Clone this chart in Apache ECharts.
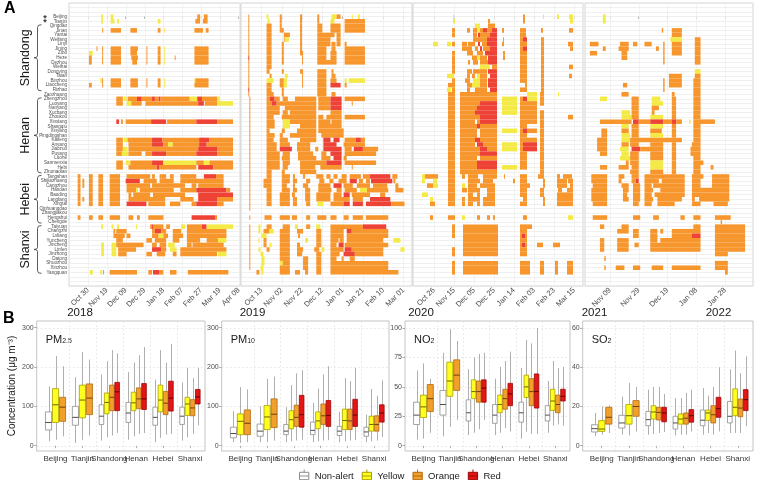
<!DOCTYPE html>
<html><head><meta charset="utf-8">
<script src="https://cdn.jsdelivr.net/npm/echarts@6/dist/echarts.min.js"></script>
<style>html,body{margin:0;padding:0;background:#fff}#c{width:760px;height:480px}</style>
</head><body><div id="c"></div>
<script>
// ---------------- DATA ----------------
const cities = ['Beijing','Tianjin','Qingdao','Jinan','Yantai','Weifang','Linyi','Jining','Zibo','Heze','Dezhou','Weihai','Dongying','Taian','Binzhou','Liaocheng','Rizhao','Zaozhuang','Zhengzhou','Luoyang','Nanyang','Xuchang','Zhoukou','Xinxiang','Shangqiu','Xinyang','Pingdingshan','Kaifeng','Anyang','Jiaozuo','Puyang','Luohe','Sanmenxia','Hebi','Zhumadian','Tangshan','Shijiazhuang','Cangzhou','Handan','Baoding','Langfang','Xingtai','Qinhuangdao','Zhangjiakou','Hengshui','Chengde','Taiyuan','Changzhi','Lvliang','Yuncheng','Jincheng','Linfen','Jinzhong','Datong','Shuozhou','Xinzhou','Yangquan'];
const provinceGroups = [['Shandong',2,16],['Henan',18,34],['Hebei',35,45],['Shanxi',46,56]];
const starredRows = [0,1];
const periodRefs = [[2018,10,30],[2019,10,13],[2020,10,26],[2021,11,9]]; // first tick date of each winter
const periodMin = [-20.2,-20.2,-21,-17.4];   // days from first tick
const periodMax = [161.4,148.4,149,99.5];
const ticks2018 = [0,20,40,60,80,100,120,140,160];
const ticks2019 = [0,20,40,60,80,100,120,140];
const ticks2020 = [0,20,40,60,80,100,120,140];
const ticks2021 = [0,20,40,60,80];
const yearLabels = ['2018','2019','2020','2021','2022'];

// alert runs per city: level(y/o/r) + startDay~endDay (days from first tick)
const alerts2018 = [
"y14~16 y24~27 o116~119 o123~127",
"y14~16 y24~28 y31~33 y74~77 o114~119 o122~127",
"",
"o15 o24~35 o45~52 o74~77 y81 o113~122 o125~128",
"","","",
"o9 o15 o24~35 o45~53 o62 o74~77 y81 o113~128",
"y1~5 o15 o24~35 o45~52 o62 o74~77 y81 o113~128",
"o1~4 o15 o24~35 o46~53 o62 o74~77 y81 o92 o113~128",
"o1~4 o15 o24~35 o47~52 o62 o74~77 y81 o113~128",
"","","",
"y13~15 o15 o24~35 o45~53 o62 o74~77 y81 y113 o114~128",
"o1~4 o15 o24~35 o45~53 o62 o74~77 y81 o113~128",
"","",
"o30~37 y38~41 o42~52 r52~57 o57~68 r68~71 o71~75 r75~77 o77~108 y108~116 r116~121 o121~137 y137~140",
"o30~37 y41~46 o46~57 o61~117 r117~123 o124~137 y137~154",
"","","",
"r30~33 o35~37 o40~67 r67~83 o84~115 r115~137 o137~154",
"","","",
"o30~37 y38~42 o42~68 r68~79 o79~118 r118~129 o129~154",
"o30~37 o43~68 r68~80 o80~85 y85~90 o90~118 r118~126 o126~154",
"o30~37 y37~42 o43~117 r117~137 o137~154",
"o30~36 y36~43 o43~57 o61~68 r68~83 o83~115 r115~137 o137~154",
"",
"o30~37 y40~45 o45~68 r68~80 y80~115 o115~123 y123~129 o129~154",
"o30~37 o43~73 r73~76 o76~115 r117~133 o133~154",
"",
"o-11~-8 o1~5 o11~16 o23~34 o41~66 o68~71 o76~83 o87~91 o98~115 r123~136 o136~144",
"o-11~-8 o-6~-4 o1~5 o11~16 o23~34 r40~55 o59~73 o76~91 o98~144",
"o-11~-8 o-6~-4 o1~5 o11~16 o23~34 o41~66 o68~103 o110~115 o117~144",
"o-11~-8 o1~5 o11~16 o23~34 o41~51 y51~53 o55~91 o98~115 r115~147 o147~151",
"o-11~-8 o1~5 o11~16 o23~34 o43~46 o48~66 o69~103 r117~154",
"o-11~-8 o-6~-4 o1~5 o11~16 o23~34 o43~82 o98~112 r117~137 o137~154",
"o-11~-8 o1~5 o11~16 o23~34 r41~62 o64~82 o87~98 o110~115 r115~137 o137~144",
"","",
"o-11~-8 o1~5 o11~16 o23~34 o43~48 o52~55 o64~80 r110~135 o135~137",
"",
"y14~16 y25~27 y31~33 y51~52 o66~68 r68~69 o69~80 o83~87 y99~103 o105~121 r121~126 y126~154",
"o27~29 o30~41 o68~71 r71~78 o78~83 o90~99 o105~147",
"o27~39 o41~45 o68~75 y75~80 o80~85 o90~101 o105~147",
"o30~37 o62~68 o71~83 o90~97 o105~119 o126~138 y138~147",
"y14~17 y25~30 o30~59 o68~73 o76~83 y85~92 o105~110 o111~144",
"y14~17 y25~30 o32~51 r68~78 o78~83 y87~94 o98~147",
"y14~17 y25~30 o32~41 o62~68 o73~82 o90~94 o98~137 y138~147",
"","","",
"y2~5 y13~15 o16~17 o23~52 o64~68 r69~76 o76~80 o87~94 o106~149"
];
const alerts2019 = [
"o-13 y5~7 o18~20 o38~40 o55~57 y69~74 o74~78 y89~90 y95~97",
"o-13 y6~8 o18~20 o38~40 o55~57 y68~72 o82~102",
"o-13 o5~10 o18~20 o38~40 o55~60 o68~78 o82~102",
"o-13 o5~10 o18~22 o38~40 o55~60 o68~78 o82~102",
"o-13 o5~10 o22~28 o38~40 o55~72 o74~78",
"o-13 o5~10 o22~23 y23~27 o38~40 o55~68 o74~78",
"o-13 o5~10 o20~22 o38~40 o55~68 o69~73 o74~78 o82~84",
"o-13 o5~10 o20~22 o38~40 o55~64 o69~73 o82~102",
"o-13 o5~10 o20~22 o38~41 o55~64 o68~74 o82~102",
"r-13 o5~10 o20~22 o40~41 o55~64 o68~74 o82~102",
"o-13 o5~10 o20~22 o40~41 o55~74 o82~102",
"o-13 o5~10",
"o-13 o5~8 o20~22 o38~41 o55~64 o69~71",
"o-13 o8~10 y23~26 o40~41 o55~64 o69~73",
"o-13 y5~12 o18~22 y22~25 o40~41 o55~64 o68~74 y82~84 y86~102",
"o-13 o5~10 o18~22 y22~25 o40~41 o55~64 r68~78 o82~84",
"r-13 o5~10 o20~22 o55~64",
"o-13 o5~12 o20~22 o55~64 o69~73",
"o-12 o5~8 r8~13 o13~18 o21~26 o33~54 o56~68 r68~79 o82~102",
"o-12 o5~10 r10~15 o15~54 o56~68 r68~79 o89~90",
"o-12 o5~18 o23~54 o56~68 r68~79",
"o-12 o5~18 o21~26 o28~54 o68~79",
"o-12 o5~12 o20~54 o56~61 o64~79 o82~102",
"o-12 o5~13 y21~28 o28~54 o56~68 o69~79",
"o-12 o5~13 y21~28 o38~54 o56~79",
"o-12 o5~8 o20~23 o35~54 o56~81",
"o-12 o5~13 o18~21 o28~54 o59~81",
"o-12 o5~12 o18~26 o38~54 r61~68 r71~77 o82~93 r93~98 o98~102",
"o-12 o5~15 o18~28 o35~48 r61~74 o81~102",
"o-12 o5~15 r18~30 o35~48 o53~56 r61~79 o82~89 r91~100 o100~115",
"o-12 o5~18 o21~28 o36~51 o59~64 r68~79 o82~113",
"o-12 o5~18 o20~28 o36~54 o59~68 r71~79 o81~84",
"o-12 o5~18 o21~28 o38~64 r64~79 o82~113",
"o-12 o5~18 o21~26 o38~53 o58~79 o89~90",
"o-12 o5~10 o20~23 o38~54",
"o-12 o5~10 o20~28 o31~33 o41~43 o54~61 o64~68 o71~75 o79~84 o87~98 o100~107 r107~127 o129~134",
"o-12 o2~10 o20~28 o31~35 o44~48 o57~62 o67~71 o76~84 r87~94 o96~100 o103~107 r108~129 o130~132",
"o-12 o2~10 o20~25 o31~33 o41~46 o56~68 r71~79 o81~90 o94~107 o110~124 o132~135",
"o-12 o5~10 o20~28 o31~35 o43~48 o56~69 o74~79 o82~94 y97~104 o104~125 o132~140",
"o-12 o5~10 o18~28 o30~33 o43~48 o54~68 o71~79 r81~87 o89~107 o117~122",
"o-12 o5~10 o18~28 o31~35 o43~48 o54~68 o71~87 o90~100 r107~127",
"o-12 o5~10 o18~28 o31~35 o44~48 y55~61 o68~81 r81~87 r90~100 r103~128 o128~141",
"o-12",
"",
"o-12 o3~10 o18~28 o30~35 o44~48 o55~64 o68~74 o81~86 o90~100 o103~125",
"",
"o-12 y-3~-1 o5~10 o21~28 y33~36 o44~48 y54~58 o68~100 r100~123",
"o-12 y-3~-1 o2~8 y8~12 o18~28 o35~41 o54~59 o68~81 r84~89 o89~125",
"o-12 y0~5 o18~28 o36~38 o54~59 o68~81 o84~125",
"o-12 y-3~-2 o2~5 o18~28 y43~46 o54~59 o68~76 o77~81 o84~120 y130~137",
"o-12 o2~5 y8~10 o18~28 o35~38 o54~59 o68~74 r76~81 o82~125",
"o-12 y-3~-1 o5~8 o18~28 o35~41 o52~57 y59~62 o68~81 r82~89 o89~120 y137~141",
"o-12 y-1~2 o18~28 o35~40 o54~59 o68~77 r81~92 o92~120",
"o-12 y0~3 o18~28 o41~46 o54~59 o68~74 o79~81 o87~92",
"o-12 y0~3 y18~21 o21~28 o41~46 o54~59 o68~125",
"o-12 y-1~2 o18~28 o41~46 o54~59 o68~125",
"o-5~-2 y0~2 o18~28 o33~38 o43~46 o54~59 o68~135"
];
const alerts2020 = [
"y19~20 o89~91 y109~110 y123~125 y135~139",
"y19~21 o54~56 o89~91 y136~139",
"y41~46 o54~61",
"o18~21 o33~36 o39~43 y43~46 o46~49 r49~53 o53~58 r58~63 o68~70 o86~92 o107~109 o135~139",
"o18~21 o39~43 r44~46 o46~56 r56~63 o86~92",
"o39~53 r53~63 o69~70 o86~89 r89~93 o107~110",
"y-1~4 y13~17 o18~21 o28~33 o34~41 r44~46 o48~53 r53~63 o68~70 o86~93 o107~110 o134~139",
"o28~38 o41~44 r46~48 o49~56 r56~63 o86~89 r89~93 o107~110 o136~139",
"o18~21 o33~39 o43~49 r51~63 o69~71 o86~93 o107~110",
"o18~21 o38~43 y43~46 o46~53 r54~63 o69~71 o86~93 o107~110",
"o18~21 o34~36 o39~44 o46~54 r54~63 o86~93 o107~110",
"o18~21 y46~56 o58~63 o86~93 o107~110 o135~139",
"o18~21 o33~38 o39~53 r54~63 o86~93 o107~110",
"y13~20 o33~36 o38~41 y43~46 o46~53 r56~63 o86~93 o107~110 o135~138",
"o18~21 o31~36 y39~46 o46~53 r54~63 o86~93 o107~110",
"o14~21 o33~38 y38~46 o46~53 r54~63 o91~93 o107~110",
"y13~17 o18~21 o33~36 o41~53 r56~63 o86~93 o107~110",
"o14~21 o26~63 y93~103 o106~110 y124~125",
"o14~21 o26~63 y68~83 o86~89 r89~93 y93~103 o106~110",
"o14~21 o26~46 r46~63 y68~83 o86~103 o106~110",
"o14~21 o26~43 r43~63 y68~83 o86~103",
"o14~21 o26~41 r41~63 y68~83 o86~103 o106~110",
"o14~21 o26~46 r46~63 o86~103 o106~110 o134~139",
"o14~21 o26~41 o43~46 r46~63 o86~103 o106~110",
"o14~21 o26~43 r43~46 o46~63 o86~93 o106~110",
"o14~21 o26~43 o46~63 y68~83 o86~89 r89~93 o93~103 o106~110",
"o14~21 o26~43 o46~63 o86~93 o106~110",
"o14~21 o26~41 r41~46 o46~63 o86~103 o106~110",
"o14~21 o26~41 r43~49 o49~63 y68~83 o86~89 r89~103 o106~110",
"o14~21 o26~46 r46~53 o53~63 y68~83 o86~89 r89~103 o106~110",
"o14~21 o26~46 r46~63 o86~93 o106~110",
"o14~21 o26~43 o46~63 o86~93 o106~110",
"o14~21 o26~43 r43~63 o86~93 o106~110",
"o14~21 o26~43 r43~63 y68~83 o86~93 o106~110",
"o14~21 o26~63 o106~110",
"y-12~-9 o-9~4 o14~21 o28~31 o34~44 o49~63 o70 o86~93 o104~110 o123~126 o129~138",
"y-12~-9 y-1~3 o14~21 o34~46 o49~59 o79~81 o86~93 o109~111 o123~133 o134~139",
"o-7~-1 y-1~4 o14~21 y28~31 o34~43 o46~61 o86~96 o109~111 o123~133 o136~139",
"o14~21 o28~33 o34~46 o53~61 o86~93 o106~110 o124~128 o133~139",
"y-12~-6 o14~21 o34~39 o43~46 o53~61 o86~93 o106~110 o123~139",
"y-4~-1 o14~21 o28~31 o34~46 o49~61 o89~93 o109~111 o123~139",
"o-4~1 o14~21 o28~31 o34~39 o43~46 o49~61 o86~93 o109~111 o123~139",
"","",
"o-4~-1 o14~21 y28~31 o43~46 o53~56 o59~61 o89~93 y134~139",
"",
"o18~21 o29~64 o86~98",
"o18~21 o29~64 o86~93",
"o18~21 o29~64 o86~88 r88~91 o91~93",
"o29~64 o86~93",
"o29~64 o86~88 r88~91 o91~93 o103~109 o119~126",
"o18~21 o29~64 o86~93",
"o18~21 o29~64 o86~93",
"",
"o18~21 o29~64 o86~96 o106~110 o121~124 o133~139",
"o18~21 o29~64 o86~96 o106~110 o121~124 o133~139",
"o18~21 o29~64 o86~96 o106~110 o121~124 o133~139"
];
const alerts2021 = [
"y-5~-3",
"y-5~-3",
"",
"o36~37 o43~50",
"o43~50",
"y42~50 o59~63",
"o-14~-8 o7~13 o16~19 o24~29 o37~38 o43~50 o59~63",
"o-5~-3 o6~13 o32~34 o37~38 o43~50 o59~63",
"o-14~-9 o8~12 o37~38 o43~50 o59~63",
"o8~12 o37~38 o59~63",
"o37~38 o59~63",
"",
"y59~63",
"o41~50 o59~63",
"o37~38 o41~50 o58~63",
"o9~12 o37~38 o41~50 o58~63",
"o37~38 o58~63",
"o8~13 o43~45 o58~63",
"y-7~-2 o15~20 y29~35 o43~46 o58~63",
"o15~20 y29~37 o43~46 o58~63",
"o15~20 o29~34 o43~46 o58~63",
"y8~14 o15~20 o29~31 o43~46 o58~63",
"y8~15 o15~20 y28~37 o43~46 o58~63",
"o-7~15 r16~20 o20~28 r28~37 o37~43 r43~46 o46~50 y55~56 o58~73",
"y8~13 o15~20 y28~37 o43~46 o58~63",
"o-6~-2 o8~13 o15~20 o28~36 o43~46 o58~63",
"o-6~-2 y8~14 o15~20 y28~37 o43~46 o58~63",
"o-9~-2 y8~14 o14~50 o58~63",
"o-9~-2 o8~13 o14~20 o28~37 o43~46 o57~63",
"o-9~-2 y7~13 r15~21 o21~37 o43~46 o56~63",
"o-7~-2 y8~13 o14~20 o28~37 o43~46 o56~63",
"y7~14 o14~20 o28~37 o43~46 o58~63",
"o11~13 o14~20 y28~37 o43~46 o58~65",
"o-7~-2 o6~13 o15~20 y28~37 o43~46 o58~63 o70~72",
"o14~20 o28~37 o43~46 o58~63",
"o-13~-2 o6~10 o15~20 o24~52 o57~65 o71~83",
"o-13~-2 o6~8 o15~18 r18~20 o24~34 o36~52 o57~63 o71~83",
"o-12~-2 o8~13 o16~21 o24~29 o30~52 o57~63 o71~83",
"o-13~-2 o9~13 o16~21 o24~30 o35~52 o57~83",
"o-13~-2 o9~12 o16~21 o24~29 o31~52 o57~83",
"o-13~-2 o9~13 o16~21 o24~30 o33~50 o57~59 o62~83",
"o-12~-2 o16~20 o24~29 o33~45 o57~63 o72~82",
"","",
"o-12~-2 o16~21 o30~34 o49~52 o58~63 o73~84",
"o77~78",
"o-7~-4 o8~13 o58~63 o73~94",
"o5~13 o16~20 o28~33 o35~37 o43~63 o73~94",
"o16~20 o28~33 o43~57 r57~63 o73~94",
"o-7~-4 o5~13 o28~33 o35~63 o73~94",
"o-7~-4 o5~13 o17~20 o28~63 o73~94",
"o-7~-4 o5~13 o28~63 o73~94",
"o73~82",
"o-4~-3",
"o73~82",
"o-4~-3 o4~10 o16~21 o29~37 o43~63 o73~82",
"o80~82"
];

// Panel B: [lower whisker, Q1, median, Q3, upper whisker] per province
const provinces = ['Beijing','Tianjin','Shandong','Henan','Hebei','Shanxi'];
const levels = ['Non-alert','Yellow','Orange','Red'];
const pm25NonAlert = [[11,40,59,86,151],[7,52,72,100,174],[13,54,75,104,181],[15,59,83,110,187],[9,52,72,98,168],[13,54,75,98,161]];
const pm25Yellow = [[15,59,104,145,228],[15,71,116,154,238],[21,81,110,134,215],[24,89,109,136,211],[20,86,116,154,243],[21,77,106,123,198]];
const pm25Orange = [[24,62,98,123,202],[26,79,121,157,219],[26,89,123,154,243],[30,94,119,147,230],[28,79,108,138,211],[30,76,96,117,172]];
const pm25Red = [null,null,[32,89,137,161,235],[32,92,119,158,251],[30,88,121,164,259],[52,106,124,143,198]];
const pm10NonAlert = [[9,20,31,47,88],[9,24,37,55,100],[9,28,37,54,98],[9,28,39,60,109],[9,26,37,49,86],[9,24,35,47,79]];
const pm10Yellow = [[7,28,62,81,149],[9,41,73,102,170],[11,43,66,89,154],[11,43,63,86,145],[11,41,64,93,172],[11,37,54,75,144]];
const pm10Orange = [[9,28,57,91,143],[13,46,80,119,176],[13,49,72,103,184],[13,54,76,106,181],[13,41,63,93,164],[13,37,54,76,127]];
const pm10Red = [null,null,[15,47,79,128,192],[14,49,77,115,202],[14,49,78,118,198],[22,60,83,104,166]];
const no2NonAlert = [[5,18,26,37,64],[8,26,35,47,79],[9,21,28,39,65],[9,19,26,35,57],[6,20,28,37,66],[11,21,26,34,55]];
const no2Yellow = [[6,24,33,43,70],[16,42,55,71,99],[11,40,46,56,75],[11,28,35,43,67],[12,41,50,60,90],[17,30,38,48,72]];
const no2Orange = [[11,29,40,52,57],[22,47,60,73,89],[14,37,46,55,78],[15,31,40,48,72],[10,34,46,57,87],[18,28,35,43,66]];
const no2Red = [null,null,[22,37,49,56,79],[12,34,44,53,80],[10,32,46,61,100],[17,38,42,48,67]];
const so2NonAlert = [[4.8,7,8.7,10.7,16.7],[5.6,9,11.6,15.5,25],[5.6,10.2,13.3,17.5,28.6],[5.3,8.5,11.6,15,24.3],[5.6,10.2,13,18.2,29.4],[6.5,11.6,15,22.6,39]];
const so2Yellow = [[5.6,7.3,8.5,12.8,20],[5.3,11,15.3,21,32],[6,13.6,17.2,20.4,30],[5.6,11,13.6,16.2,24.3],[6.5,12.8,16.7,18.2,25.5],[6.5,15.3,19.6,29,48.5]];
const so2Orange = [[6.5,11,14.5,19.6,20.6],[7.3,15,20,23,30],[6.5,13.1,17,19.6,30],[5.6,11,14,16.7,27],[5.6,11.6,15.8,20.4,30],[6.5,14.8,19.2,23.8,37]];
const so2Red = [null,null,[7,12.2,16.7,19.6,26.4],[7.3,12,15.3,18.4,28.6],[7.3,14.5,18.9,24.7,40],[9.9,17.9,23.5,28.6,45.6]];
const pollutantTicks = [[0,100,200,300],[0,100,200,300],[0,25,50,75,100],[0,20,40,60]];

// ---------------- STYLE / LAYOUT ----------------
const FONT = '"Liberation Sans", Arial, Helvetica, sans-serif';
const tileColors = ['#F4EA46','#F6962D','#EE4237'];
const boxFill = ['#FFFFFF','#FFFF1F','#F2A02C','#E31515'];
const boxStroke = ['#8C8C8C','#A89E00','#B06A10','#9A0808'];
const boxMedian = ['#4D4D4D','#6B6400','#6E4008','#5E0000'];
const MONTHS = ['Jan','Feb','Mar','Apr','May','Jun','Jul','Aug','Sep','Oct','Nov','Dec'];
function fmtDate(ref, d){
  const t = new Date(Date.UTC(ref[0], ref[1]-1, ref[2]) + Math.round(d)*86400000);
  return MONTHS[t.getUTCMonth()] + ' ' + String(t.getUTCDate()).padStart(2,'0');
}
function parseRuns(list){
  const out = [];
  list.forEach((s,row)=>{
    if(!s) return;
    s.trim().split(/\s+/).forEach(tok=>{
      const m = tok.match(/^([yor])(-?\d+(?:\.\d+)?)(?:~(-?\d+(?:\.\d+)?))?$/);
      if(!m) return;
      const a = +m[2];
      const b = m[3] !== undefined ? +m[3] : a + 1;
      out.push([a, Math.max(b, a + 1), row, 'yor'.indexOf(m[1])]);
    });
  });
  return out;
}
const alertSets = [alerts2018, alerts2019, alerts2020, alerts2021];
const tickSets = [ticks2018, ticks2019, ticks2020, ticks2021];
const gridA = [[69,171],[241,171],[413,170],[585,168]];
const gridB = [[36.7,168.3],[221.7,167.3],[405,165],[582.7,170.3]];
const yRangeB = [[-13.5,317],[-13.5,317],[-4.5,106],[-2.7,63.6]];
const pollutantSets = [
  [pm25NonAlert,pm25Yellow,pm25Orange,pm25Red],
  [pm10NonAlert,pm10Yellow,pm10Orange,pm10Red],
  [no2NonAlert,no2Yellow,no2Orange,no2Red],
  [so2NonAlert,so2Yellow,so2Orange,so2Red]
];

function tileItem(params, api){
  const s = api.value(0), e = api.value(1), r = api.value(2), l = api.value(3);
  const a = api.coord([s, r - 0.5]), b = api.coord([e, r + 0.5]);
  return {type:'rect', shape:{x:Math.min(a[0],b[0]), y:Math.min(a[1],b[1]), width:Math.max(Math.abs(b[0]-a[0]),1), height:Math.abs(b[1]-a[1])}, style:{fill:tileColors[l]}};
}
function vLineMaker(color, dash){
  return function(params, api){
    const cs = params.coordSys;
    const x = Math.round(api.coord([api.value(0), api.value(1)])[0]) + 0.5;
    return {type:'line', shape:{x1:x, y1:cs.y, x2:x, y2:cs.y+cs.height}, style:{stroke:color, lineWidth:0.7, lineDash:dash}};
  };
}
function hLineMaker(color, dash){
  return function(params, api){
    const cs = params.coordSys;
    const y = Math.round(api.coord([api.value(0), api.value(1)])[1]) + 0.5;
    return {type:'line', shape:{x1:cs.x, y1:y, x2:cs.x+cs.width, y2:y}, style:{stroke:color, lineWidth:0.7, lineDash:dash}};
  };
}
function boxItem(params, api){
  const x = api.value(0), lo = api.value(1), q1 = api.value(2), md = api.value(3), q3 = api.value(4), hi = api.value(5), hw = api.value(6), lv = api.value(7);
  const pLo = api.coord([x, lo]), pHi = api.coord([x, hi]), pQ1 = api.coord([x, q1]), pQ3 = api.coord([x, q3]);
  const pL = api.coord([x - hw, md]), pR = api.coord([x + hw, md]);
  const cx = Math.round(pLo[0]) + 0.5;
  return {type:'group', children:[
    {type:'line', shape:{x1:cx, y1:pLo[1], x2:cx, y2:pQ1[1]}, style:{stroke:'#A6A6A6', lineWidth:0.9}},
    {type:'line', shape:{x1:cx, y1:pQ3[1], x2:cx, y2:pHi[1]}, style:{stroke:'#A6A6A6', lineWidth:0.9}},
    {type:'rect', shape:{x:pL[0], y:pQ3[1], width:pR[0]-pL[0], height:pQ1[1]-pQ3[1]}, style:{fill:boxFill[lv], stroke:boxStroke[lv], lineWidth:0.8}},
    {type:'line', shape:{x1:pL[0], y1:pL[1], x2:pR[0], y2:pR[1]}, style:{stroke:boxMedian[lv], lineWidth:1}}
  ]};
}

const grids = [], xAxes = [], yAxes = [], series = [];
// Panel A
for (let i = 0; i < 4; i++){
  grids.push({left:gridA[i][0], top:3, width:gridA[i][1], height:283, show:true, borderColor:'#c9c9c9', borderWidth:0.8, backgroundColor:'#fff'});
  const ref = periodRefs[i];
  xAxes.push({type:'value', gridIndex:i, min:periodMin[i], max:periodMax[i],
    axisLine:{show:false}, splitLine:{show:false},
    axisTick:{show:true, customValues:tickSets[i], length:2, lineStyle:{color:'#777', width:0.6}},
    axisLabel:{customValues:tickSets[i], rotate:45, fontSize:7.5, color:'#4d4d4d', margin:3, fontFamily:FONT, formatter:v=>fmtDate(ref, v)}});
  yAxes.push({type:'value', gridIndex:i, inverse:true, min:-3, max:59, interval:1,
    axisLine:{show:false}, axisTick:{show:false},
    splitLine:{show:true, lineStyle:{color:'#e6e6e6', width:0.6}},
    axisLabel: i === 0 ? {show:true, fontSize:4.6, color:'#4d4d4d', margin:2, fontFamily:FONT, formatter:v=>(cities[v] || '')} : {show:false}});
  series.push({type:'custom', xAxisIndex:i, yAxisIndex:i, silent:true, z:1, renderItem:vLineMaker('#ececec', null),
    data: tickSets[i].map(v=>[v, 0])});
  series.push({type:'custom', xAxisIndex:i, yAxisIndex:i, silent:true, z:2, renderItem:tileItem,
    encode:{x:[0,1], y:2}, data: parseRuns(alertSets[i])});
}
// Panel B
for (let p = 0; p < 4; p++){
  const gi = 4 + p;
  grids.push({left:gridB[p][0], top:321, width:gridB[p][1], height:130, show:true, borderColor:'#b5b5b5', borderWidth:0.8, backgroundColor:'#fff'});
  xAxes.push({type:'value', gridIndex:gi, min:0.3, max:6.56, axisLine:{show:false}, splitLine:{show:false},
    axisTick:{show:true, customValues:[1,2,3,4,5,6], length:2.5, lineStyle:{color:'#777', width:0.6}},
    axisLabel:{customValues:[1,2,3,4,5,6], fontSize:8, color:'#333', margin:4, fontFamily:FONT, formatter:v=>provinces[Math.round(v)-1]}});
  yAxes.push({type:'value', gridIndex:gi, min:yRangeB[p][0], max:yRangeB[p][1], axisLine:{show:false}, splitLine:{show:false},
    axisTick:{show:true, customValues:pollutantTicks[p], length:2.5, lineStyle:{color:'#777', width:0.6}},
    axisLabel:{customValues:pollutantTicks[p], fontSize:7, color:'#4d4d4d', margin:3, fontFamily:FONT}});
  series.push({type:'custom', xAxisIndex:gi, yAxisIndex:gi, silent:true, z:1, renderItem:hLineMaker('#e3e3e3',[2,2]),
    data: pollutantTicks[p].map(v=>[1, v])});
  series.push({type:'custom', xAxisIndex:gi, yAxisIndex:gi, silent:true, z:1, renderItem:vLineMaker('#e3e3e3',[2,2]),
    data: [1.5,2.5,3.5,4.5,5.5].map(v=>[v, 0])});
  const sets = pollutantSets[p];
  const perLevel = [[],[],[],[]];
  provinces.forEach((prov, i)=>{
    const present = [0,1,2,3].filter(k => sets[k][i]);
    const n = present.length, step = 0.78 / n;
    present.forEach((k, j)=>{
      const x = (i + 1) - 0.39 + step * (j + 0.5);
      perLevel[k].push([x].concat(sets[k][i]).concat([step * 0.44, k]));
    });
  });
  for (let k = 0; k < 4; k++){
    series.push({type:'custom', name:levels[k], xAxisIndex:gi, yAxisIndex:gi, silent:true, z:3, renderItem:boxItem,
      itemStyle:{color:boxFill[k], borderColor:boxStroke[k], borderWidth:1},
      encode:{x:0, y:[1,2,3,4,5]}, data: perLevel[k]});
  }
}

const boxIcon = 'path://M5,0L5,3M0,3L10,3L10,11L0,11ZM0,7L10,7M5,11L5,14';
const chart = echarts.init(document.getElementById('c'), null, {renderer:'canvas'});
chart.setOption({
  animation:false,
  backgroundColor:'#fff',
  textStyle:{fontFamily:FONT},
  grid:grids, xAxis:xAxes, yAxis:yAxes, series:series,
  legend:{left:294, top:464, itemWidth:11, itemHeight:13, itemGap:8, selectedMode:false,
    textStyle:{fontSize:9.5, color:'#1a1a1a', fontFamily:FONT},
    data: levels.map((n,k)=>({name:n, icon:boxIcon, itemStyle:{color:boxFill[k], borderColor:boxStroke[k], borderWidth:1}}))}
});

// ---------------- annotations ----------------
const g = [];
g.push({type:'text', x:4, y:1, style:{text:'A', fontSize:16, fontWeight:'bold', fill:'#000', fontFamily:FONT}});
g.push({type:'text', x:3, y:311, style:{text:'B', fontSize:16, fontWeight:'bold', fill:'#000', fontFamily:FONT}});
const yearX = [80, 252.5, 421, 594.5, 718.5];
yearLabels.forEach((t,i)=>g.push({type:'text', x:yearX[i], y:313, style:{text:t, fontSize:11.5, fill:'#1a1a1a', fontFamily:FONT, align:'center', verticalAlign:'middle'}}));
const rowY = r => chart.convertToPixel({yAxisIndex:0}, r);
provinceGroups.forEach(([name, a, b])=>{
  const y1 = rowY(a) - 1, y2 = rowY(b) + 1, ym = (y1 + y2) / 2, xl = 37.5;
  g.push({type:'polyline', shape:{points:[[41.5,y1],[38.6,y1+0.4],[xl,y1+2.5],[xl,ym-2],[36.6,ym-0.5],[34,ym],[36.6,ym+0.5],[xl,ym+2],[xl,y2-2.5],[38.6,y2-0.4],[41.5,y2]]},
    style:{stroke:'#333', fill:null, lineWidth:0.8}});
  g.push({type:'text', x:26, y:ym, rotation:Math.PI/2, style:{text:name, fontSize:12.5, fill:'#1a1a1a', fontFamily:FONT, align:'center', verticalAlign:'middle'}});
});
starredRows.forEach(r=>g.push({type:'text', x:45, y:rowY(r) + 1.5, style:{text:'*', fontSize:9, fontWeight:'bold', fill:'#333', fontFamily:FONT, align:'center', verticalAlign:'middle'}}));
const titles = [['PM','2.5'],['PM','10'],['NO','2'],['SO','2']];
titles.forEach(([a,b],p)=>{
  g.push({type:'text', x:gridB[p][0] + 9, y:331, style:{text:`{a|${a}}{b|${b}}`, fontFamily:FONT,
    rich:{a:{fontSize:11, fill:'#1a1a1a', lineHeight:14, verticalAlign:'bottom'}, b:{fontSize:7, fill:'#1a1a1a', lineHeight:5, verticalAlign:'bottom'}}}});
});
g.push({type:'text', x:12, y:386, rotation:Math.PI/2, style:{text:'Concentration (μg m⁻³)', fontSize:10, fill:'#1a1a1a', fontFamily:FONT, align:'center', verticalAlign:'middle'}});
chart.setOption({graphic:g});
</script>
</body></html>
